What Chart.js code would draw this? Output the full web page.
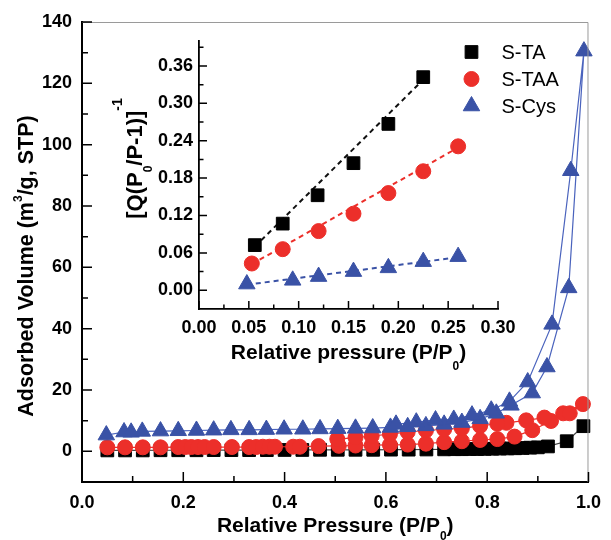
<!DOCTYPE html>
<html>
<head>
<meta charset="utf-8">
<script src="https://cdn.jsdelivr.net/npm/chart.js@4"></script>
<style>
  html, body { margin: 0; padding: 0; background: #fff; }
  #wrap { position: relative; width: 611px; height: 540px; }
  #wrap canvas { position: absolute; left: 0; top: 0; }
</style>
</head>
<body>
<div id="wrap">
  <canvas id="main" width="611" height="540"></canvas>
  <canvas id="inset" width="611" height="540"></canvas>
</div>
<script>
// N2 isotherms: adsorption branch then desorption branch (P/P0, cm3/g)
const taP = [0.05, 0.085, 0.12, 0.155, 0.19, 0.226, 0.26, 0.295, 0.33, 0.365, 0.40, 0.435, 0.47, 0.505, 0.54, 0.575, 0.61, 0.645, 0.68, 0.715, 0.735, 0.75, 0.765, 0.78, 0.795, 0.81, 0.825, 0.84, 0.855, 0.87, 0.885, 0.9, 0.92, 0.957, 0.99];
const taV = [0.3, 0.3, 0.3, 0.35, 0.35, 0.35, 0.4, 0.4, 0.4, 0.4, 0.45, 0.45, 0.5, 0.5, 0.5, 0.5, 0.55, 0.55, 0.6, 0.65, 0.7, 0.7, 0.75, 0.75, 0.8, 0.85, 0.9, 0.95, 1.0, 1.1, 1.2, 1.3, 1.6, 3.3, 8.2];

const taaP = [0.05, 0.085, 0.12, 0.155, 0.19, 0.204, 0.216, 0.229, 0.242, 0.26, 0.296, 0.33, 0.344, 0.357, 0.37, 0.381, 0.417, 0.43, 0.467, 0.507, 0.54, 0.572, 0.608, 0.643, 0.679, 0.715, 0.75, 0.786, 0.82, 0.854, 0.889, 0.926, 0.95, 0.989,
  0.963, 0.913, 0.877, 0.838, 0.82, 0.786, 0.75, 0.715, 0.679, 0.643, 0.608, 0.572, 0.54, 0.504];
const taaV = [1.3, 1.3, 1.3, 1.3, 1.4, 1.4, 1.4, 1.4, 1.4, 1.4, 1.4, 1.4, 1.4, 1.5, 1.5, 1.5, 1.5, 1.5, 1.7, 1.8, 1.9, 2.0, 2.1, 2.2, 2.5, 3.0, 3.3, 3.7, 4.0, 4.8, 6.9, 9.9, 12.4, 15.4,
  12.4, 11.0, 10.1, 9.3, 9.0, 8.3, 7.5, 7.2, 6.8, 6.3, 5.6, 5.0, 4.5, 4.0];

const cysP = [0.048, 0.083, 0.097, 0.119, 0.155, 0.19, 0.226, 0.26, 0.294, 0.33, 0.364, 0.399, 0.436, 0.47, 0.505, 0.54, 0.574, 0.609, 0.643, 0.679, 0.715, 0.75, 0.786, 0.818, 0.847, 0.889, 0.918, 0.961, 0.991,
  0.965, 0.928, 0.88, 0.844, 0.808, 0.77, 0.734, 0.698, 0.66, 0.62];
const cysV = [5.3, 6.3, 6.2, 6.5, 6.6, 6.7, 6.8, 6.9, 7.0, 7.0, 7.1, 7.2, 7.2, 7.3, 7.4, 7.5, 7.6, 7.8, 8.0, 8.3, 8.8, 9.4, 10.6, 12.4, 15.0, 19.0, 27.5, 53.3, 130.5,
  91.5, 41.4, 22.6, 16.3, 13.4, 11.8, 10.4, 10.2, 9.5, 8.8];

// BET plot (inset)
const betTaP = [0.056, 0.084, 0.119, 0.155, 0.19, 0.225];
const betTaQ = [0.0725, 0.107, 0.1525, 0.204, 0.267, 0.342];
const betTaaP = [0.053, 0.084, 0.12, 0.155, 0.19, 0.225, 0.26];
const betTaaQ = [0.043, 0.066, 0.095, 0.123, 0.156, 0.191, 0.231];
const betCysP = [0.048, 0.094, 0.12, 0.155, 0.19, 0.225, 0.26];
const betCysQ = [0.010, 0.016, 0.022, 0.030, 0.036, 0.046, 0.054];
// dashed fit lines, end points
const fitTaP = [0.056, 0.225], fitTaQ = [0.070, 0.338];
const fitTaaP = [0.053, 0.26], fitTaaQ = [0.042, 0.229];
const fitCysP = [0.048, 0.26], fitCysQ = [0.009, 0.053];

// ticks
const mainXTicks = [0, 0.2, 0.4, 0.6, 0.8, 1.0];
const mainYTicks = [0, 20, 40, 60, 80, 100, 120, 140];
const insetXTicks = [0, 0.05, 0.10, 0.15, 0.20, 0.25, 0.30];
const insetYTicks = [0, 0.06, 0.12, 0.18, 0.24, 0.30, 0.36];

const FAM = "'Liberation Sans', Arial, sans-serif";
Chart.defaults.font.family = FAM;
Chart.defaults.color = "#000";

const RED = "#ec2f2a", BLUE = "#3a52a6", BLACK = "#000000";
const toXY = (xs, ys) => xs.map((x, i) => ({ x: x, y: ys[i] }));
const mids = (t) => t.slice(1).map((v, i) => (v + t[i]) / 2);

// minor + major inward ticks, plus optional thin frame
const axisTicks = {
  id: "axisTicks",
  afterDraw(chart, args, o) {
    const { ctx, chartArea: a, scales } = chart;
    const xs = scales.x, ys = scales.y;
    ctx.save();
    if (o.frame) {
      ctx.strokeStyle = "#9a9a9a";
      ctx.lineWidth = 1;
      ctx.beginPath();
      ctx.moveTo(a.left, a.top + 0.5);
      ctx.lineTo(a.right - 0.5, a.top + 0.5);
      ctx.lineTo(a.right - 0.5, a.bottom);
      ctx.stroke();
    }
    ctx.strokeStyle = "#000";
    ctx.lineWidth = o.width;
    ctx.beginPath();
    const tx = (v, len) => { const p = xs.getPixelForValue(v); ctx.moveTo(p, a.bottom); ctx.lineTo(p, a.bottom - len); };
    const ty = (v, len) => { const p = ys.getPixelForValue(v); ctx.moveTo(a.left, p); ctx.lineTo(a.left + len, p); };
    o.xMajor.forEach(v => tx(v, o.major));
    o.xMinor.forEach(v => tx(v, o.minor));
    o.yMajor.forEach(v => ty(v, o.major));
    o.yMinor.forEach(v => ty(v, o.minor));
    ctx.stroke();
    ctx.restore();
  }
};

function drawRich(ctx, parts, x, y, vertical) {
  ctx.save();
  ctx.translate(x, y);
  if (vertical) ctx.rotate(-Math.PI / 2);
  ctx.fillStyle = "#000";
  ctx.textBaseline = "alphabetic";
  ctx.textAlign = "left";
  let w = 0;
  parts.forEach(p => { ctx.font = p.font; w += ctx.measureText(p.text).width; });
  let cx = -w / 2;
  parts.forEach(p => {
    ctx.font = p.font;
    ctx.fillText(p.text, cx, p.dy || 0);
    cx += ctx.measureText(p.text).width;
  });
  ctx.restore();
}

const axisTitles = {
  id: "axisTitles",
  afterDraw(chart, args, o) {
    const a = chart.chartArea, cx = (a.left + a.right) / 2, cy = (a.top + a.bottom) / 2;
    drawRich(chart.ctx, o.x, cx + o.xShift, a.bottom + o.xGap, false);
    drawRich(chart.ctx, o.y, a.left - o.yGap, cy + o.yShift, true);
  }
};

function marker(ctx, style, x, y, r, fill) {
  ctx.fillStyle = fill;
  ctx.strokeStyle = fill;
  ctx.lineWidth = 1;
  ctx.beginPath();
  if (style === "rect") {
    const s = r * Math.SQRT1_2;
    ctx.rect(x - s, y - s, 2 * s, 2 * s);
  } else if (style === "circle") {
    ctx.arc(x, y, r, 0, Math.PI * 2);
  } else {
    ctx.moveTo(x, y - r);
    ctx.lineTo(x + r * Math.sin(Math.PI / 3), y + r / 2);
    ctx.lineTo(x - r * Math.sin(Math.PI / 3), y + r / 2);
    ctx.closePath();
  }
  ctx.fill();
  ctx.stroke();
}

const legendBox = {
  id: "legendBox",
  afterDraw(chart, args, o) {
    const { ctx, chartArea: a } = chart;
    ctx.save();
    o.order.forEach((di, i) => {
      const ds = chart.data.datasets[di];
      const x = a.right - o.right, y = a.top + o.top + i * o.step;
      marker(ctx, ds.pointStyle, x, y, ds.pointRadius, ds.pointBackgroundColor);
      ctx.fillStyle = "#000";
      ctx.font = "20px " + FAM;
      ctx.textBaseline = "middle";
      ctx.textAlign = "left";
      ctx.fillText(ds.label, x + 30, y + 1);
    });
    ctx.restore();
  }
};

function isoSet(label, p, v, color, lineColor, style, r, order) {
  return {
    label: label,
    data: toXY(p, v),
    showLine: true,
    borderColor: lineColor,
    borderWidth: 1.2,
    pointStyle: style,
    pointRadius: r,
    pointBackgroundColor: color,
    pointBorderColor: color,
    pointBorderWidth: 1,
    clip: false,
    order: order
  };
}

function betSet(label, p, q, color, style, r) {
  return {
    label: label, data: toXY(p, q), showLine: false,
    pointStyle: style, pointRadius: r,
    pointBackgroundColor: color, pointBorderColor: color, pointBorderWidth: 1,
    clip: false, order: 1
  };
}

function fitSet(p, q, color) {
  return {
    label: "fit", data: toXY(p, q), showLine: true,
    borderColor: color, borderWidth: 2, borderDash: [5, 4],
    pointRadius: 0, clip: false, order: 2
  };
}

const tickFont = { size: 18, weight: "bold", family: FAM };

function linScale(min, max, ticks, fmt, pad, fitSize, horizontal, borderW) {
  return {
    type: "linear",
    min: min, max: max,
    grid: { display: false, drawTicks: false },
    border: { display: true, color: "#000", width: borderW },
    afterBuildTicks: s => { s.ticks = ticks.map(v => ({ value: v })); },
    afterFit: s => { if (horizontal) s.height = fitSize; else s.width = fitSize; },
    ticks: {
      font: tickFont, color: "#000", padding: pad,
      autoSkip: false, maxRotation: 0, minRotation: 0,
      callback: v => v.toFixed(fmt)
    }
  };
}

const fontB = (s) => "bold " + s + "px " + FAM;

new Chart(document.getElementById("main").getContext("2d"), {
  type: "scatter",
  data: {
    datasets: [
      isoSet("S-TA", taP, taV, BLACK, "#444444", "rect", 9, 3),
      isoSet("S-TAA", taaP, taaV, RED, RED, "circle", 7.5, 2),
      isoSet("S-Cys", cysP, cysV, BLUE, "#4a63bd", "triangle", 9.5, 1)
    ]
  },
  options: {
    responsive: false,
    animation: false,
    layout: { autoPadding: false, padding: { left: 0, right: 14, top: 22, bottom: 0 } },
    scales: {
      x: linScale(0, 1, mainXTicks, 1, 10, 58, true, 2),
      y: linScale(-10, 140, mainYTicks, 0, 10, 82, false, 2)
    },
    plugins: {
      legend: { display: false },
      tooltip: { enabled: false },
      axisTicks: { width: 1.5, major: 10, minor: 6, frame: true,
        xMajor: mainXTicks, xMinor: mids(mainXTicks),
        yMajor: mainYTicks, yMinor: mids(mainYTicks) },
      axisTitles: {
        x: [{ text: "Relative Pressure (P/P", font: fontB(21) }, { text: "0", font: fontB(12), dy: 8 }, { text: ")", font: fontB(21) }],
        xShift: 0, xGap: 50,
        y: [{ text: "Adsorbed Volume (m", font: fontB(21.5) }, { text: "3", font: fontB(12), dy: -11 }, { text: "/g, STP)", font: fontB(21.5) }],
        yGap: 49, yShift: 14
      },
      legendBox: { order: [0, 1, 2], right: 117, top: 30, step: 27 }
    }
  },
  plugins: [axisTicks, axisTitles, legendBox]
});

new Chart(document.getElementById("inset").getContext("2d"), {
  type: "scatter",
  data: {
    datasets: [
      betSet("S-TA", betTaP, betTaQ, BLACK, "rect", 9),
      betSet("S-TAA", betTaaP, betTaaQ, RED, "circle", 7.5),
      betSet("S-Cys", betCysP, betCysQ, BLUE, "triangle", 9.5),
      fitSet(fitTaP, fitTaQ, "#111111"),
      fitSet(fitTaaP, fitTaaQ, RED),
      fitSet(fitCysP, fitCysQ, BLUE)
    ]
  },
  options: {
    responsive: false,
    animation: false,
    layout: { autoPadding: false, padding: { left: 0, right: 113, top: 41, bottom: 0 } },
    scales: {
      x: linScale(0, 0.30, insetXTicks, 2, 8, 231, true, 1.8),
      y: linScale(-0.03, 0.40, insetYTicks, 2, 6, 199, false, 1.8)
    },
    plugins: {
      legend: { display: false },
      tooltip: { enabled: false },
      axisTicks: { width: 1.5, major: 8, minor: 4.5, frame: false,
        xMajor: insetXTicks, xMinor: mids(insetXTicks),
        yMajor: insetYTicks, yMinor: mids(insetYTicks).concat([0.39]) },
      axisTitles: {
        x: [{ text: "Relative pressure (P/P", font: fontB(21) }, { text: "0", font: fontB(12), dy: 11 }, { text: ")", font: fontB(21) }],
        xShift: 0, xGap: 50,
        y: [{ text: "[Q(P", font: fontB(22) }, { text: "0", font: fontB(12), dy: 10 }, { text: "/P-1)]", font: fontB(22) }, { text: "-1", font: fontB(14), dy: -20 }],
        yGap: 57, yShift: -16.5
      }
    }
  },
  plugins: [axisTicks, axisTitles]
});
</script>
</body>
</html>
